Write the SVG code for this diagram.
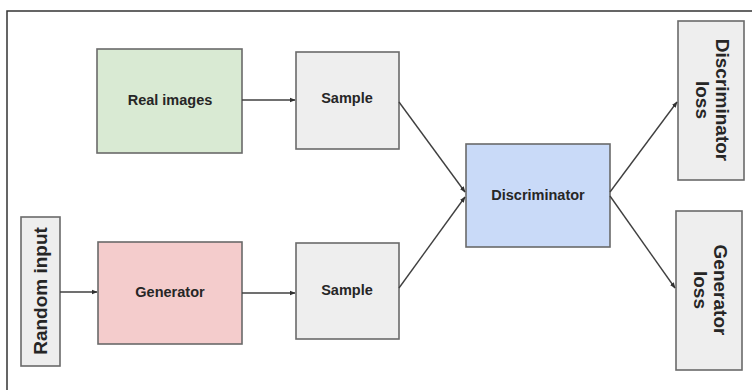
<svg xmlns="http://www.w3.org/2000/svg" width="752" height="390" viewBox="0 0 752 390">
  <style>
    .box { stroke: #6a6a6a; stroke-width: 1.6; }
    .lbl { font-family: "Liberation Sans", Arial, sans-serif; font-weight: bold; font-size: 14.5px; fill: #262626; text-anchor: middle; dominant-baseline: central; }
    .big { font-size: 19px; }
    .wire { stroke: #404040; stroke-width: 1.4; fill: none; marker-end: url(#tip); }
  </style>
  <defs>
    <marker id="tip" viewBox="0 0 10 10" refX="9" refY="5" markerWidth="6" markerHeight="6" markerUnits="userSpaceOnUse" orient="auto">
      <path d="M0,1 L10,5 L0,9 z" fill="#303030"/>
    </marker>
  </defs>
  <rect width="752" height="390" fill="#ffffff"/>
  <!-- outer frame -->
  <path d="M7,390 V11 H752" fill="none" stroke="#333" stroke-width="1.5"/>

  <g id="real-images">
    <rect class="box" x="97" y="49" width="145" height="104" fill="#d9ead3"/>
    <text class="lbl" x="170" y="100">Real images</text>
  </g>
  <g id="sample-real">
    <rect class="box" x="296" y="52" width="103" height="97" fill="#eeeeee"/>
    <text class="lbl" x="347" y="98">Sample</text>
  </g>
  <g id="random-input">
    <rect class="box" x="21" y="217" width="39" height="149" fill="#eeeeee"/>
    <text class="lbl big" transform="translate(40.5,291) rotate(-90)">Random input</text>
  </g>
  <g id="generator">
    <rect class="box" x="98" y="242" width="144" height="102" fill="#f4cccc"/>
    <text class="lbl" x="170" y="292" fill="#3a2626">Generator</text>
  </g>
  <g id="sample-fake">
    <rect class="box" x="296" y="243" width="103" height="96" fill="#eeeeee"/>
    <text class="lbl" x="347" y="290">Sample</text>
  </g>
  <g id="discriminator">
    <rect class="box" x="466" y="144" width="144" height="103" fill="#c9daf8"/>
    <text class="lbl" x="538" y="195" fill="#1e2433">Discriminator</text>
  </g>
  <g id="discriminator-loss">
    <rect class="box" x="678" y="21" width="66" height="159" fill="#eeeeee"/>
    <text class="lbl big" transform="translate(722,100) rotate(90)">Discriminator</text>
    <text class="lbl big" transform="translate(702,100) rotate(90)">loss</text>
  </g>
  <g id="generator-loss">
    <rect class="box" x="676" y="211" width="66" height="159" fill="#eeeeee"/>
    <text class="lbl big" transform="translate(720,290) rotate(90)">Generator</text>
    <text class="lbl big" transform="translate(700,290) rotate(90)">loss</text>
  </g>

  <g id="connectors">
    <line class="wire" x1="242" y1="100" x2="295" y2="100"/>
    <line class="wire" x1="60" y1="292" x2="97" y2="292"/>
    <line class="wire" x1="242" y1="293" x2="295" y2="293"/>
    <line class="wire" x1="399" y1="102" x2="465" y2="192"/>
    <line class="wire" x1="399" y1="288" x2="465" y2="197"/>
    <line class="wire" x1="610" y1="192" x2="677" y2="102"/>
    <line class="wire" x1="610" y1="196" x2="675" y2="288"/>
  </g>
</svg>
